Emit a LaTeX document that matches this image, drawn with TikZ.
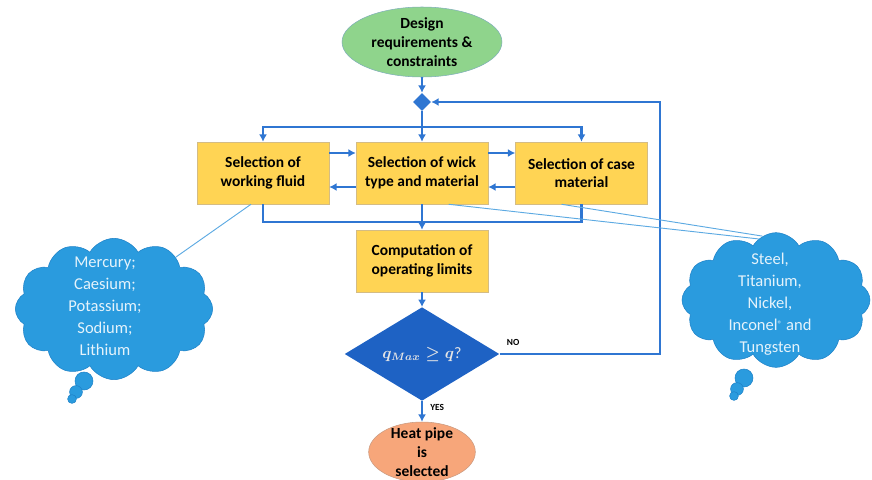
\documentclass[tikz,border=0pt]{standalone}
\usepackage{fontspec}
\setmainfont{Carlito}
\usetikzlibrary{shapes.geometric,shapes.symbols,arrows.meta}
\definecolor{flowblue}{HTML}{2F76D2}
\definecolor{boxyellow}{HTML}{FFD454}
\definecolor{boxedge}{HTML}{D4BC84}
\definecolor{startgreen}{HTML}{8FD48C}
\definecolor{startedge}{HTML}{7FAFB8}
\definecolor{endorange}{HTML}{F7A67A}
\definecolor{endedge}{HTML}{C99A80}
\definecolor{decblue}{HTML}{1E62C4}
\definecolor{cloudblue}{HTML}{2A9BDE}
\definecolor{cloudedge}{HTML}{1E82C8}
\definecolor{noteline}{HTML}{5DAAE2}
\begin{document}
\begin{tikzpicture}[x=0.75pt, y=-0.75pt, >={Latex[length=5.5pt,width=6pt]},
        flow/.style={draw=flowblue, line width=1.8pt},
        note/.style={draw=noteline, line width=0.7pt},
        stepbox/.style={draw=boxedge, fill=boxyellow, minimum width=99pt, minimum height=46.5pt,
            align=center, font=\fontsize{11.6}{14}\selectfont\bfseries},
        terminal/.style={ellipse, inner xsep=0pt, inner ysep=-10pt, align=center,
            font=\fontsize{11.6}{14}\selectfont\bfseries},
        thought/.style={cloud, cloud puffs=12, cloud puff arc=120, aspect=1.4,
            draw=cloudedge, fill=cloudblue},
        thoughttext/.style={align=center, text=white!88!cloudblue, font=\fontsize{12.4}{16.5}\selectfont},
        tag/.style={font=\fontsize{7}{8}\selectfont\bfseries}]
        \useasboundingbox (0,0) rectangle (872,479);

        \node[terminal, draw=startedge, fill=startgreen, minimum width=120pt, minimum height=52.5pt] (start) at (422,42) {Design\\requirements \&\\constraints};
        \node[diamond, fill=flowblue, inner sep=0pt, minimum size=13.5pt] (gate) at (422,102) {};
        \node[stepbox] (fluid) at (263,173) {Selection of\\working fluid};
        \node[stepbox] (wick) at (422,173) {Selection of wick\\type and material};
        \node[stepbox] (case) at (581.5,173) {Selection of case\\material};
        \node[stepbox] (comp) at (422,261) {Computation of\\operating limits};
        \node[diamond, fill=decblue, inner sep=0pt, minimum width=116pt, minimum height=46.5pt,
            text=gray!20, font=\fontsize{12}{14}\selectfont\boldmath] (check) at (422,354) {$q_{Max}\geq q$?};
        \node[terminal, draw=endedge, fill=endorange, minimum width=80pt, minimum height=45pt] (done) at (422,452) {Heat pipe\\is\\selected};

        \coordinate (split) at (422,127);
        \coordinate (join) at (422,222);
        \coordinate (back) at (660,102);

        \draw[flow, ->] (start) -- (gate);
        \draw[flow, ->] (gate) -- (wick);
        \draw[flow, ->] (split) -| (fluid);
        \draw[flow, ->] (split) -| (case);
        \draw[flow, ->] ([yshift=15pt]fluid.east) -- ([yshift=15pt]wick.west);
        \draw[flow, ->] ([yshift=15pt]wick.east) -- ([yshift=15pt]case.west);
        \draw[flow, ->] ([yshift=-10.5pt]wick.west) -- ([yshift=-10.5pt]fluid.east);
        \draw[flow, ->] ([yshift=-10.5pt]case.west) -- ([yshift=-10.5pt]wick.east);
        \draw[flow] (fluid) |- (join);
        \draw[flow] (case) |- (join);
        \draw[flow, ->] (wick) -- (comp);
        \draw[flow, ->] (comp) -- (check);
        \draw[flow, ->] (check) -- (done) node[tag, pos=0.3, right=2pt] (yes) {YES};
        \draw[flow, ->] (check.east) -| (back) -- (gate.east);
        \node[tag, anchor=south west] (no) at ([xshift=2pt,yshift=3pt]check.east) {NO};

        \node[thought, minimum width=148pt, minimum height=106pt] (fluidcloud) at (114,309) {};
        \fill[cloudblue, draw=cloudedge] (84,381) circle (6.75pt);
        \fill[cloudblue, draw=cloudedge] (76,392) circle (4.8pt);
        \fill[cloudblue, draw=cloudedge] (72,399) circle (3.3pt);
        \node[thoughttext] (fluidlist) at (105,306) {Mercury;\\Caesium;\\Potassium;\\Sodium;\\Lithium};

        \node[thought, minimum width=141pt, minimum height=101pt] (matcloud) at (776,300) {};
        \fill[cloudblue, draw=cloudedge] (744,378) circle (6.75pt);
        \fill[cloudblue, draw=cloudedge] (737,389) circle (4.8pt);
        \fill[cloudblue, draw=cloudedge] (734,396) circle (3.3pt);
        \node[thoughttext] (matlist) at (770,304) {Steel,\\Titanium,\\Nickel,\\Inconel{\scriptsize\raisebox{0.6ex}{\textregistered}} and\\Tungsten};

        \draw[note] ([xshift=-9pt]fluid.south) -- (fluidcloud.40);
        \draw[note] ([xshift=20pt]wick.south) -- (matcloud.106);
        \draw[note] ([xshift=-15pt]case.south) -- (matcloud.102);
    \end{tikzpicture}
\end{document}
